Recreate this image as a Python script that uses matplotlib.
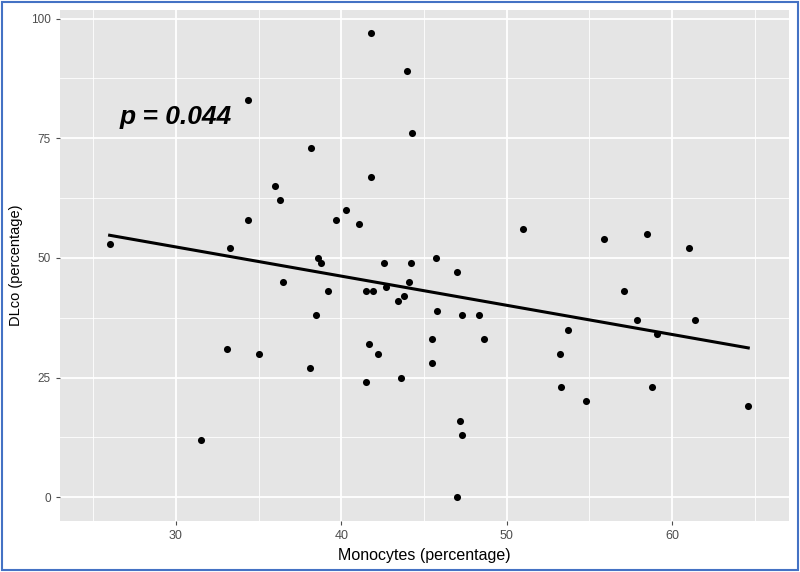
import numpy as np
import matplotlib
matplotlib.use("Agg")
import matplotlib.pyplot as plt
from matplotlib.patches import Rectangle
from matplotlib.ticker import MultipleLocator

plt.rcParams["font.family"] = ["Liberation Sans", "DejaVu Sans"]

# monocytes (%) and DLco (%)
monocytes = [
    26.0, 31.5, 33.1, 33.3, 35.0, 34.35, 34.35, 36.0, 36.3, 36.5,
    38.1, 38.2, 38.5, 38.6, 38.8, 39.2, 39.7, 40.3, 41.1, 41.5,
    41.5, 41.8, 41.8, 41.9, 41.7, 42.2, 42.6, 42.7, 43.4, 43.6,
    43.8, 43.96, 44.1, 44.2, 44.3, 45.5, 45.5, 45.7, 45.8, 47.0,
    47.0, 47.2, 47.3, 47.3, 48.3, 48.6, 51.0, 53.2, 53.3, 53.7,
    54.8, 55.9, 57.1, 57.9, 58.5, 58.8, 59.1, 61.0, 61.4, 64.6,
]
dlco = [
    53, 12, 31, 52, 30, 83, 58, 65, 62, 45,
    27, 73, 38, 50, 49, 43, 58, 60, 57, 24,
    43, 97, 67, 43, 32, 30, 49, 44, 41, 25,
    42, 89, 45, 49, 76, 28, 33, 50, 39, 0,
    47, 16, 13, 38, 38, 33, 56, 30, 23, 35,
    20, 54, 43, 37, 55, 23, 34, 52, 37, 19,
]
p_label = "p = 0.044"

x = np.array(monocytes)
y = np.array(dlco)
slope, intercept = np.polyfit(x, y, 1)
xs = np.array([x.min(), x.max()])

fig = plt.figure(figsize=(8, 5.72), dpi=100)
ax = fig.add_axes([0.075, 0.089, 0.911, 0.8935])

ax.set_facecolor("#E5E5E5")
ax.set_xlim(23.0, 67.05)
ax.set_ylim(-5.0, 101.8)
ax.xaxis.set_major_locator(MultipleLocator(10))
ax.xaxis.set_minor_locator(MultipleLocator(5))
ax.yaxis.set_major_locator(MultipleLocator(25))
ax.yaxis.set_minor_locator(MultipleLocator(12.5))
ax.grid(which="major", color="white", linewidth=1.3)
ax.grid(which="minor", color="white", linewidth=0.6)
ax.set_axisbelow(True)
for s in ax.spines.values():
    s.set_visible(False)
ax.tick_params(which="major", length=3, width=0.8, color="#4D4D4D",
               labelcolor="#4D4D4D")
ax.tick_params(axis="x", which="major", labelsize=9)
ax.tick_params(axis="y", which="major", labelsize=8.5)
ax.tick_params(which="minor", length=0)

ax.scatter(x, y, s=26, color="black", zorder=3, linewidths=0)
ax.plot(xs, intercept + slope * xs, color="black", linewidth=2.2, zorder=3)

ax.text(26.6, 79.4, p_label, fontsize=19, fontweight="bold",
        fontstyle="italic", va="center", ha="left")

ax.set_xlabel("Monocytes (percentage)", fontsize=11.5, labelpad=4)
ax.set_ylabel("DLco (percentage)", fontsize=10.5, labelpad=6)

fig.patches.append(Rectangle((0.002, 0.003), 0.996, 0.994, transform=fig.transFigure,
                             fill=False, edgecolor="#4472C4", linewidth=1.5))

fig.savefig("out.png", dpi=100)
